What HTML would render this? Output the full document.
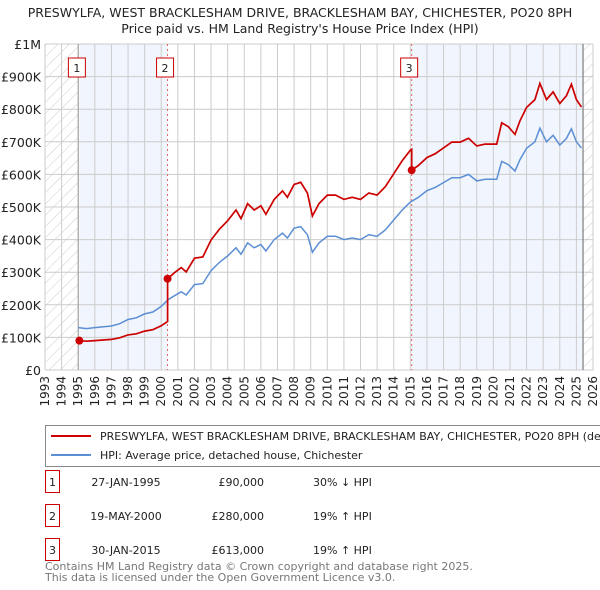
<!DOCTYPE html>
<html><head><meta charset="utf-8"><style>
body{margin:0;background:#fff;font-family:"Liberation Sans","DejaVu Sans",sans-serif;}
svg{display:block}
</style></head><body>
<svg id="c" width="600" height="590" font-family="'DejaVu Sans','Liberation Sans',sans-serif"></svg>
<script>
const yearTicks=[1993,1994,1995,1996,1997,1998,1999,2000,2001,2002,2003,2004,2005,2006,2007,2008,2009,2010,2011,2012,2013,2014,2015,2016,2017,2018,2019,2020,2021,2022,2023,2024,2025,2026];
const valueTicks=[0,100,200,300,400,500,600,700,800,900,1000];
const valueLabels=["£0","£100K","£200K","£300K","£400K","£500K","£600K","£700K","£800K","£900K","£1M"];
const hpiDates=[1995.0,1995.5,1996,1997,1997.5,1998,1998.5,1999,1999.5,2000,2000.4,2000.8,2001.2,2001.5,2002,2002.5,2003,2003.5,2004,2004.5,2004.8,2005.2,2005.6,2006,2006.3,2006.8,2007.3,2007.6,2008,2008.4,2008.8,2009.1,2009.5,2010,2010.5,2011,2011.5,2012,2012.5,2013,2013.5,2014,2014.5,2015,2015.5,2016,2016.5,2017,2017.5,2018,2018.5,2019,2019.5,2020,2020.2,2020.5,2020.9,2021.3,2021.6,2022,2022.5,2022.8,2023.2,2023.6,2024,2024.4,2024.7,2025,2025.3];
const hpiValues=[130,127,130,135,142,155,160,172,178,195,215,228,240,230,262,265,305,330,350,375,355,390,375,385,365,400,420,405,435,440,415,361,390,410,410,400,405,400,415,410,430,460,490,515,530,550,560,575,590,590,600,580,585,585,585,640,630,610,645,680,700,742,700,720,690,710,740,700,681];
const saleDates=[1995.07,2000.38,2015.08];
const salePrices=[90,280,613];
const saleLabels=["1","2","3"];

const L=45,R=593,T=44,B=370;
const x=y=>L+(y-1993)*(R-L)/33;
const yv=v=>B-v*(B-T)/1000;
const svg=document.getElementById('c');
const NS='http://www.w3.org/2000/svg';
function mk(tag,attrs,parent){const e=document.createElementNS(NS,tag);for(const k in attrs)e.setAttribute(k,attrs[k]);(parent||svg).appendChild(e);return e;}
function hpiAt(d){for(let i=0;i<hpiDates.length-1;i++){if(d<=hpiDates[i+1]){const t=(d-hpiDates[i])/(hpiDates[i+1]-hpiDates[i]);return hpiValues[i]+t*(hpiValues[i+1]-hpiValues[i]);}}return hpiValues[hpiValues.length-1];}

const defs=mk('defs',{});
const pat=mk('pattern',{id:'h',width:8,height:8,patternUnits:'userSpaceOnUse',patternTransform:'rotate(45)'},defs);
mk('line',{x1:0,y1:0,x2:0,y2:8,stroke:'#ccc','stroke-width':1},pat);

let t=mk('text',{x:300,y:17,'text-anchor':'middle','font-size':12.5,fill:'#222'});t.textContent="PRESWYLFA, WEST BRACKLESHAM DRIVE, BRACKLESHAM BAY, CHICHESTER, PO20 8PH";


t=mk('text',{x:300,y:33,'text-anchor':'middle','font-size':12.5,fill:'#222'});t.textContent="Price paid vs. HM Land Registry's House Price Index (HPI)";



let r=mk('rect',{x:x(1993),y:T,width:x(1995.0)-x(1993),height:B-T,fill:'url(#h)'});


r=mk('rect',{x:x(2025.4),y:T,width:R-x(2025.4),height:B-T,fill:'url(#h)'});


r=mk('rect',{x:x(saleDates[0]),y:T,width:x(saleDates[1])-x(saleDates[0]),height:B-T,fill:'#eef3fc',opacity:0.8});


r=mk('rect',{x:x(saleDates[2]),y:T,width:x(2025.4)-x(saleDates[2]),height:B-T,fill:'#eef3fc',opacity:0.8});



yearTicks.forEach(yr=>{const l=mk('line',{x1:x(yr),x2:x(yr),y1:T,y2:B,stroke:'#ccc'});


const tx=mk('text',{transform:`translate(${x(yr)+4},${B+6}) rotate(-90)`,'text-anchor':'end','font-size':12,fill:'#222'});tx.textContent=yr;

});
valueTicks.forEach((v,i)=>{const l=mk('line',{x1:L,x2:R,y1:yv(v),y2:yv(v),stroke:'#ccc'});


const tx=mk('text',{x:L-4,y:yv(v)+5,'text-anchor':'end','font-size':12.5,fill:'#222'});tx.textContent=valueLabels[i];

});
mk('line',{x1:x(1995),x2:x(1995),y1:T,y2:B,stroke:'#999'});
mk('line',{x1:x(2025.4),x2:x(2025.4),y1:T,y2:B,stroke:'#666'});

saleDates.forEach((d,i)=>{if(i>0){const l=mk('line',{x1:x(d),x2:x(d),y1:T,y2:B,stroke:'#e06060','stroke-dasharray':'2,3'});

}
const bx=x(d)-9;const g=mk('g',{});


mk('rect',{x:bx-2,y:58,width:17,height:19,fill:'#fff',stroke:'#cc0000'},g);
const tx=mk('text',{x:bx+6.5,y:72,'text-anchor':'middle','font-size':11,fill:'#222'},g);tx.textContent=saleLabels[i];});

let p='';hpiDates.forEach((d,i)=>{p+=(i?'L':'M')+x(d).toFixed(1)+','+yv(hpiValues[i]).toFixed(1);});
let hp=mk('path',{d:p,fill:'none',stroke:'#5b8fd4','stroke-width':1.5});


let rp='';let first=true;
for(let s=0;s<saleDates.length;s++){
  const ratio=salePrices[s]/hpiAt(saleDates[s]);const end=s+1<saleDates.length?saleDates[s+1]:9999;
  const pts=[[saleDates[s],salePrices[s]]];
  hpiDates.forEach((d,i)=>{if(d>saleDates[s]&&d<end)pts.push([d,hpiValues[i]*ratio]);});
  if(end<9999)pts.push([end,hpiAt(end)*ratio]);
  pts.forEach(pt=>{rp+=(first?'M':'L')+x(pt[0]).toFixed(1)+','+yv(pt[1]).toFixed(1);first=false;});
}
let rl=mk('path',{d:rp,fill:'none',stroke:'#cc0000','stroke-width':1.7});


saleDates.forEach((d,i)=>{const c=mk('circle',{cx:x(d),cy:yv(salePrices[i]),r:4,fill:'#cc0000'});

});

const lg=mk('g',{});


mk('rect',{x:45.5,y:425.5,width:560,height:41,fill:'#fff',stroke:'#888'},lg);
mk('line',{x1:51,x2:91,y1:436,y2:436,stroke:'#cc0000','stroke-width':2},lg);
mk('line',{x1:51,x2:91,y1:455,y2:455,stroke:'#5b8fd4','stroke-width':2},lg);
t=mk('text',{x:100,y:440,'font-size':11,fill:'#222'},lg);t.textContent="PRESWYLFA, WEST BRACKLESHAM DRIVE, BRACKLESHAM BAY, CHICHESTER, PO20 8PH (detached house)";
t=mk('text',{x:100,y:459,'font-size':11,fill:'#222'},lg);t.textContent="HPI: Average price, detached house, Chichester";

const dates=["27-JAN-1995","19-MAY-2000","30-JAN-2015"];const prices=["£90,000","£280,000","£613,000"];const hpis=["30% ↓ HPI","19% ↑ HPI","19% ↑ HPI"];
dates.forEach((d,i)=>{const y=482+i*34;const g=mk('g',{});


mk('rect',{x:45.5,y:y-11.5,width:14,height:22,fill:'none',stroke:'#cc0000'},g);
let a=mk('text',{x:52.5,y:y+4,'text-anchor':'middle','font-size':11,fill:'#222'},g);a.textContent=i+1;
a=mk('text',{x:126,y:y+4,'text-anchor':'middle','font-size':11,fill:'#222'},g);a.textContent=d;
a=mk('text',{x:264,y:y+4,'text-anchor':'end','font-size':11,fill:'#222'},g);a.textContent=prices[i];
a=mk('text',{x:313,y:y+4,'font-size':11,fill:'#222'},g);a.textContent=hpis[i];});
t=mk('text',{x:45,y:570,'font-size':11,fill:'#777'});t.textContent="Contains HM Land Registry data © Crown copyright and database right 2025.";


t=mk('text',{x:45,y:581,'font-size':11,fill:'#777'});t.textContent="This data is licensed under the Open Government Licence v3.0.";


</script>
</body></html>
